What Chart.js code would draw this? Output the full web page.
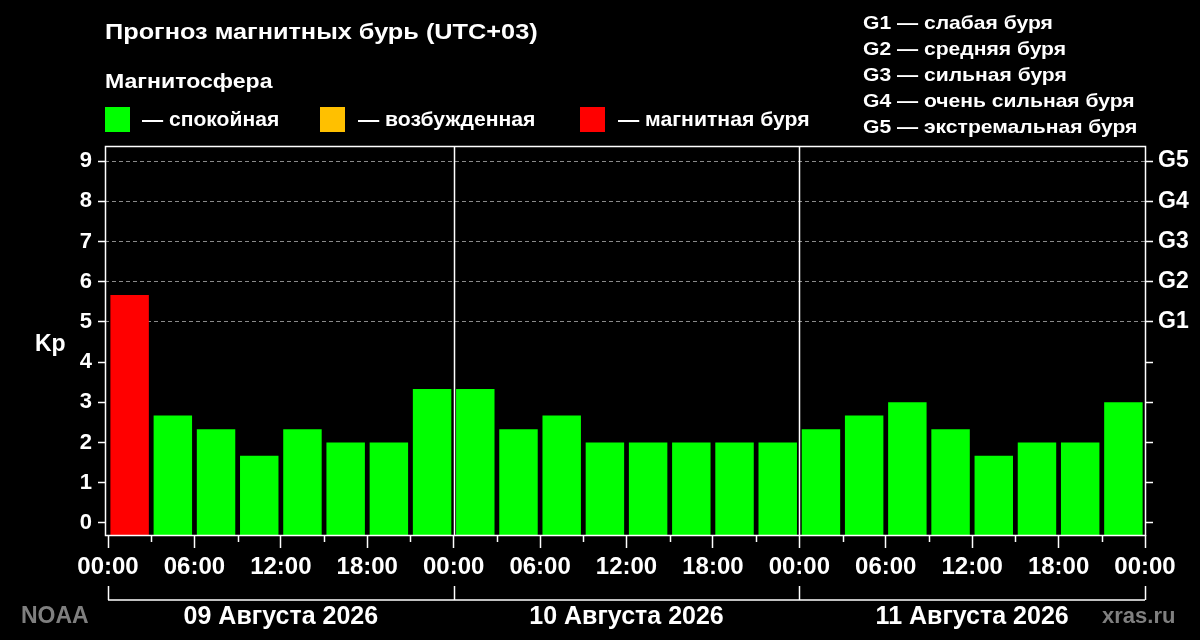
<!DOCTYPE html>
<html>
<head>
<meta charset="utf-8">
<script src="https://cdn.jsdelivr.net/npm/chart.js@4.4.1/dist/chart.umd.min.js"></script>
<style>
  html, body { margin: 0; padding: 0; background: #000; }
  #wrap { position: relative; width: 1200px; height: 640px; background: #000; overflow: hidden;
          font-family: 'Liberation Sans', Arial, sans-serif; font-weight: bold; color: #fff; }
  #chartBox { position: absolute; left: 0; top: 0; width: 1200px; height: 640px; }
  .t { position: absolute; white-space: nowrap; line-height: 1; transform-origin: 0 50%; }
  .sw { position: absolute; width: 25px; height: 25px; }
</style>
</head>
<body>
<div id="wrap">
  <div id="chartBox"><canvas id="c"></canvas></div>
  <div class="t" id="title" style="left:105px; top:21px; font-size:22px; transform:scaleX(1.15);">Прогноз магнитных бурь (UTC+03)</div>
  <div class="t" style="left:105px; top:70px; font-size:21px; transform:scaleX(1.1);">Магнитосфера</div>
  <div class="sw" style="left:105px; top:107px; background:#00ff00;"></div>
  <div class="t" style="left:142px; top:109px; font-size:20px; transform:scaleX(1.055);">— спокойная</div>
  <div class="sw" style="left:320px; top:107px; background:#ffc000;"></div>
  <div class="t" style="left:358px; top:109px; font-size:20px; transform:scaleX(1.06);">— возбужденная</div>
  <div class="sw" style="left:580px; top:107px; background:#ff0000;"></div>
  <div class="t" style="left:618px; top:109px; font-size:20px; transform:scaleX(1.06);">— магнитная буря</div>
  <div id="glegend"></div>
  <div class="t" style="left:35px; top:332px; font-size:23px;">Kp</div>
  <div class="t" style="left:21px; top:604px; font-size:23px; color:#7f7f7f;">NOAA</div>
  <div class="t" style="left:1102px; top:605px; font-size:22px; color:#7f7f7f;">xras.ru</div>
</div>
<script>
// ---- data ----
const dayLabels = ['09 Августа 2026', '10 Августа 2026', '11 Августа 2026'];
const kpDay1 = [5.67, 2.67, 2.33, 1.67, 2.33, 2.00, 2.00, 3.33];
const kpDay2 = [3.33, 2.33, 2.67, 2.00, 2.00, 2.00, 2.00, 2.00];
const kpDay3 = [2.33, 2.67, 3.00, 2.33, 1.67, 2.00, 2.00, 3.00];
const kpTicks = [0, 1, 2, 3, 4, 5, 6, 7, 8, 9];
const gScaleLabels = ['G1', 'G2', 'G3', 'G4', 'G5'];   // Kp 5..9
const gLegend = ['G1 — слабая буря', 'G2 — средняя буря', 'G3 — сильная буря', 'G4 — очень сильная буря', 'G5 — экстремальная буря'];
const hoursPerBar = 3;

// legend list on the right
const gl = document.getElementById('glegend');
gLegend.forEach((s, i) => {
  const d = document.createElement('div');
  d.className = 't';
  d.style.left = '863px';
  d.style.top = (13 + i * 26) + 'px';
  d.style.fontSize = '19px';
  d.style.transform = 'scaleX(1.11)';
  d.textContent = s;
  gl.appendChild(d);
});

const kpAll = [].concat(kpDay1, kpDay2, kpDay3);
const points = kpAll.map((v, i) => ({ x: i * hoursPerBar + hoursPerBar / 2, y: v }));
const totalHours = kpAll.length * hoursPerBar;
const yMin = -0.3, yMax = 9.375;

function kpColor(v) {
  if (v >= 5) return '#ff0000';
  if (v >= 4) return '#ffc000';
  return '#00ff00';
}
function hhmm(h) {
  const hh = ((h % 24) + 24) % 24;
  return String(hh).padStart(2, '0') + ':00';
}

const FONT = "'Liberation Sans', Arial, sans-serif";
Chart.defaults.font.family = FONT;

const decor = {
  id: 'decor',
  afterDatasetsDraw(chart) {
    const { ctx, chartArea: a, scales } = chart;
    const x = scales.x;
    ctx.save();
    ctx.strokeStyle = '#ffffff';
    ctx.lineWidth = 1.5;
    // day separators
    for (let d = 1; d < dayLabels.length; d++) {
      const px = Math.round(x.getPixelForValue(d * 24)) + 0.5;
      ctx.beginPath(); ctx.moveTo(px, a.top); ctx.lineTo(px, a.bottom); ctx.stroke();
    }
    // border
    ctx.strokeRect(a.left + 0.5, a.top + 0.5, a.right - a.left, a.bottom - a.top);
    // minor x ticks
    for (let h = hoursPerBar; h < totalHours; h += 6) {
      const px = Math.round(x.getPixelForValue(h)) + 0.5;
      ctx.beginPath(); ctx.moveTo(px, a.bottom); ctx.lineTo(px, a.bottom + 7); ctx.stroke();
    }
    // date brackets
    const by = 600;
    const x0 = x.getPixelForValue(0), x1 = x.getPixelForValue(totalHours);
    ctx.beginPath(); ctx.moveTo(x0, by); ctx.lineTo(x1, by); ctx.stroke();
    for (let d = 0; d <= dayLabels.length; d++) {
      const px = Math.round(x.getPixelForValue(d * 24)) + 0.5;
      ctx.beginPath(); ctx.moveTo(px, by - 14); ctx.lineTo(px, by); ctx.stroke();
    }
    ctx.fillStyle = '#ffffff';
    ctx.font = 'bold 25px ' + FONT;
    ctx.textAlign = 'center';
    ctx.textBaseline = 'middle';
    dayLabels.forEach((s, d) => {
      ctx.fillText(s, x.getPixelForValue(d * 24 + 12), 617);
    });
    ctx.restore();
  }
};

new Chart(document.getElementById('c'), {
  type: 'bar',
  data: {
    datasets: [{
      label: 'Kp',
      data: points,
      base: yMin,
      backgroundColor: ctx => kpColor(ctx.raw ? ctx.raw.y : 0),
      borderWidth: 0,
      barPercentage: 0.89,
      categoryPercentage: 1.0
    }]
  },
  options: {
    responsive: true,
    maintainAspectRatio: false,
    devicePixelRatio: 1,
    animation: false,
    layout: { padding: { top: 146, left: 0, right: 0, bottom: 0 } },
    plugins: { legend: { display: false }, tooltip: { enabled: false } },
    scales: {
      x: {
        type: 'linear',
        offset: false,
        min: -0.21,
        max: totalHours,
        afterBuildTicks: s => { const t = []; for (let h = 0; h <= totalHours; h += 6) t.push({ value: h }); s.ticks = t; },
        afterFit: s => { s.height = 105; },
        ticks: {
          color: '#ffffff',
          font: { size: 24, weight: 'bold' },
          padding: 5,
          autoSkip: false,
          maxRotation: 0,
          callback: v => hhmm(v)
        },
        grid: { offset: false, drawOnChartArea: false, tickLength: 13, tickColor: '#ffffff', tickWidth: 1.5 },
        border: { display: false }
      },
      y: {
        position: 'left',
        min: yMin,
        max: yMax,
        afterBuildTicks: s => { s.ticks = kpTicks.map(v => ({ value: v })); },
        afterFit: s => { s.width = 105; },
        ticks: { color: '#ffffff', font: { size: 22, weight: 'bold' }, padding: 6 },
        grid: {
          color: c => (c.tick && c.tick.value >= 5) ? '#8a8a8a' : 'rgba(0,0,0,0)',
          lineWidth: 1,
          tickLength: 7,
          tickColor: '#ffffff',
          tickWidth: 1.5,
          tickBorderDash: []
        },
        border: { display: false, dash: [4, 3] }
      },
      y2: {
        position: 'right',
        min: yMin,
        max: yMax,
        afterBuildTicks: s => { s.ticks = kpTicks.map(v => ({ value: v })); },
        afterFit: s => { s.width = 55; },
        ticks: {
          color: '#ffffff', font: { size: 23, weight: 'bold' }, padding: 5,
          callback: v => (v >= 5 && v - 5 < gScaleLabels.length) ? gScaleLabels[v - 5] : ''
        },
        grid: { drawOnChartArea: false, tickLength: 8, tickColor: '#ffffff', tickWidth: 1.5 },
        border: { display: false }
      }
    }
  },
  plugins: [decor]
});
</script>
</body>
</html>
